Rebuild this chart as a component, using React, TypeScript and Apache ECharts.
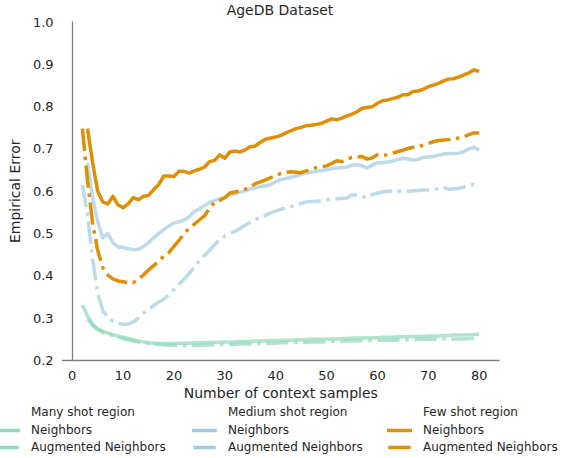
import React, { useEffect, useRef } from "react";
import * as echarts from "echarts";

const samples = [
  2, 3, 4, 5, 6, 7, 8, 9, 10, 11, 12, 13, 14, 15, 16, 17, 18, 19, 20, 21,
  22, 23, 24, 25, 26, 27, 28, 29, 30, 31, 32, 33, 34, 35, 36, 37, 38, 39, 40, 41,
  42, 43, 44, 45, 46, 47, 48, 49, 50, 51, 52, 53, 54, 55, 56, 57, 58, 59, 60, 61,
  62, 63, 64, 65, 66, 67, 68, 69, 70, 71, 72, 73, 74, 75, 76, 77, 78, 79, 80,
];

// Many shot region
const manyNeighbors = [
  0.331, 0.305, 0.286, 0.275, 0.269, 0.265, 0.261, 0.258, 0.255, 0.252,
  0.249, 0.246, 0.244, 0.242, 0.241, 0.240, 0.240, 0.240, 0.240, 0.241,
  0.241, 0.241, 0.242, 0.242, 0.242, 0.243, 0.243, 0.243, 0.244, 0.244,
  0.244, 0.245, 0.245, 0.245, 0.246, 0.246, 0.246, 0.247, 0.247, 0.248,
  0.248, 0.248, 0.249, 0.249, 0.249, 0.250, 0.250, 0.250, 0.251, 0.251,
  0.251, 0.252, 0.252, 0.253, 0.253, 0.253, 0.254, 0.254, 0.254, 0.255,
  0.255, 0.255, 0.256, 0.256, 0.256, 0.257, 0.257, 0.257, 0.258, 0.258,
  0.258, 0.259, 0.259, 0.260, 0.260, 0.260, 0.261, 0.261, 0.262,
];
const manyAugmented = [
  null, 0.298, 0.283, 0.273, 0.267, 0.263, 0.259, 0.255, 0.252, 0.249,
  0.246, 0.244, 0.242, 0.240, 0.239, 0.238, 0.237, 0.236, 0.236, 0.235,
  0.235, 0.235, 0.236, 0.236, 0.236, 0.237, 0.237, 0.237, 0.238, 0.238,
  0.238, 0.239, 0.239, 0.239, 0.240, 0.240, 0.240, 0.241, 0.241, 0.242,
  0.242, 0.242, 0.243, 0.243, 0.243, 0.244, 0.244, 0.244, 0.245, 0.245,
  0.245, 0.245, 0.246, 0.246, 0.246, 0.247, 0.247, 0.247, 0.248, 0.248,
  0.248, 0.248, 0.249, 0.249, 0.249, 0.249, 0.250, 0.250, 0.250, 0.250,
  0.250, 0.251, 0.251, 0.251, 0.251, 0.251, 0.252, 0.252, 0.252,
];

// Medium shot region
const mediumNeighbors = [
  null, 0.667, 0.585, 0.528, 0.490, 0.500, 0.478, 0.468, 0.467, 0.464,
  0.462, 0.463, 0.470, 0.478, 0.490, 0.500, 0.509, 0.518, 0.525, 0.528,
  0.532, 0.540, 0.552, 0.558, 0.566, 0.574, 0.578, 0.582, 0.585, 0.591,
  0.594, 0.598, 0.601, 0.605, 0.608, 0.611, 0.613, 0.616, 0.622, 0.628,
  0.630, 0.633, 0.636, 0.640, 0.643, 0.645, 0.647, 0.649, 0.651, 0.653,
  0.655, 0.656, 0.657, 0.662, 0.663, 0.660, 0.655, 0.662, 0.667, 0.668,
  0.669, 0.671, 0.675, 0.678, 0.676, 0.674, 0.675, 0.680, 0.681, 0.682,
  0.685, 0.688, 0.689, 0.689, 0.690, 0.694, 0.700, 0.704, 0.697,
];
const mediumAugmented = [
  0.615, 0.545, 0.440, 0.360, 0.318, 0.302, 0.293, 0.289, 0.285, 0.286,
  0.291, 0.300, 0.312, 0.320, 0.330, 0.338, 0.345, 0.355, 0.368, 0.380,
  0.392, 0.406, 0.420, 0.436, 0.448, 0.460, 0.474, 0.486, 0.494, 0.500,
  0.505, 0.512, 0.520, 0.527, 0.533, 0.538, 0.543, 0.549, 0.553, 0.557,
  0.561, 0.564, 0.568, 0.571, 0.575, 0.576, 0.576, 0.578, 0.580, 0.581,
  0.582, 0.583, 0.584, 0.591, 0.592, 0.588, 0.584, 0.592, 0.596, 0.598,
  0.600, 0.600, 0.600, 0.600, 0.600, 0.601, 0.602, 0.603, 0.603, 0.604,
  0.606, 0.609, 0.605, 0.606, 0.607, 0.610, 0.615, 0.616, 0.611,
];

// Few shot region
const fewNeighbors = [
  null, 0.748, 0.668, 0.600, 0.575, 0.570, 0.588, 0.568, 0.561, 0.570,
  0.585, 0.580, 0.588, 0.590, 0.604, 0.616, 0.636, 0.636, 0.635, 0.647,
  0.647, 0.643, 0.648, 0.652, 0.657, 0.670, 0.673, 0.686, 0.678, 0.693,
  0.695, 0.693, 0.698, 0.705, 0.707, 0.716, 0.723, 0.726, 0.728, 0.732,
  0.738, 0.743, 0.748, 0.751, 0.755, 0.756, 0.758, 0.760, 0.766, 0.771,
  0.769, 0.773, 0.778, 0.782, 0.788, 0.796, 0.798, 0.800, 0.808, 0.814,
  0.816, 0.819, 0.822, 0.828, 0.828, 0.836, 0.837, 0.841, 0.847, 0.851,
  0.855, 0.861, 0.865, 0.866, 0.870, 0.875, 0.880, 0.887, 0.883,
];
const fewAugmented = [
  0.748, 0.625, 0.525, 0.460, 0.420, 0.402, 0.393, 0.388, 0.386, 0.384,
  0.384, 0.392, 0.402, 0.414, 0.424, 0.434, 0.447, 0.455, 0.470, 0.484,
  0.500, 0.512, 0.522, 0.532, 0.542, 0.560, 0.574, 0.578, 0.585, 0.596,
  0.598, 0.601, 0.605, 0.610, 0.618, 0.622, 0.627, 0.632, 0.636, 0.642,
  0.645, 0.646, 0.645, 0.644, 0.648, 0.652, 0.656, 0.658, 0.660, 0.666,
  0.672, 0.670, 0.676, 0.680, 0.681, 0.682, 0.676, 0.679, 0.686, 0.685,
  0.686, 0.690, 0.694, 0.697, 0.701, 0.704, 0.705, 0.709, 0.713, 0.717,
  0.720, 0.721, 0.722, 0.723, 0.726, 0.729, 0.734, 0.738, 0.737,
];

const regionLabels = ["Many shot region", "Medium shot region", "Few shot region"];
const methodLabels = ["Neighbors", "Augmented Neighbors"];
const xTicks = [0, 10, 20, 30, 40, 50, 60, 70, 80];

const GREEN = "#8ed8bb";
const BLUE = "#9ecae1";
const ORANGE = "#de8f05";
const TEXT = "#262626";
const FONT = "DejaVu Sans";
const LW = 3.5;
const DASHDOT = [22.4, 5.6, 3.5, 5.6];

function pairs(vals: (number | null)[]) {
  const out: [number, number][] = [];
  vals.forEach((v, i) => {
    if (v !== null) out.push([samples[i], v]);
  });
  return out;
}

export default function App() {
  const ref = useRef<HTMLDivElement>(null);
  useEffect(() => {
    if (!ref.current) return;
    const chart = echarts.init(ref.current, undefined, { renderer: "svg" });

    const mk = (name: string, vals: (number | null)[], color: string, dashed: boolean, opacity: number, z: number) => ({
      name,
      type: "line",
      data: pairs(vals),
      showSymbol: false,
      symbol: "none",
      z,
      lineStyle: {
        color,
        width: LW,
        type: dashed ? DASHDOT : "solid",
        cap: "butt",
        join: "round",
        opacity,
      },
      emphasis: { disabled: true },
    });

    const cols = [
      { text: 31, color: GREEN },
      { text: 228, color: BLUE },
      { text: 423, color: ORANGE },
    ];
    const rowHeader = 413;
    const rowNb = 430.5;
    const rowAug = 447.5;
    const graphics: any[] = [];
    cols.forEach((c, i) => {
      graphics.push({
        type: "text",
        left: c.text,
        top: rowHeader - 7,
        style: { text: regionLabels[i], fill: TEXT, font: `12px ${FONT}` },
      });
      graphics.push({
        type: "text",
        left: c.text,
        top: rowNb - 7,
        style: { text: methodLabels[0], fill: TEXT, font: `12px ${FONT}` },
      });
      graphics.push({
        type: "text",
        left: c.text,
        top: rowAug - 7,
        style: { text: methodLabels[1], fill: TEXT, font: `12px ${FONT}` },
      });
      const x0 = c.text - 36;
      graphics.push({
        type: "line",
        shape: { x1: x0, y1: rowNb, x2: x0 + 25, y2: rowNb },
        style: { stroke: c.color, lineWidth: LW, lineCap: "butt" },
      });
      graphics.push({
        type: "line",
        shape: { x1: x0 + 1.3, y1: rowAug, x2: x0 + 1.3 + 22.4, y2: rowAug },
        style: { stroke: c.color, lineWidth: LW, lineCap: "butt" },
      });
    });

    chart.setOption({
      animation: false,
      backgroundColor: "#ffffff",
      title: {
        text: "AgeDB Dataset",
        left: 280,
        top: 3,
        padding: 0,
        textAlign: "center",
        textStyle: { fontFamily: FONT, fontSize: 14, fontWeight: "normal", color: TEXT },
      },
      grid: { left: 60, right: 69, top: 22, bottom: 97.5, containLabel: false },
      xAxis: {
        type: "value",
        min: -1.9,
        max: 83.9,
        splitNumber: 8,
        minInterval: 10,
        maxInterval: 10,
        name: "Number of context samples",
        nameLocation: "middle",
        nameGap: 25,
        nameTextStyle: { fontFamily: FONT, fontSize: 14, color: TEXT },
        axisLine: { show: true, lineStyle: { color: "#808080", width: 1.3 } },
        axisTick: { show: false },
        splitLine: { show: false },
        axisLabel: {
          fontFamily: FONT,
          fontSize: 13,
          color: TEXT,
          margin: 8,
          showMinLabel: true,
          showMaxLabel: true,
          formatter: (v: number) => (xTicks.indexOf(Math.round(v * 1000) / 1000) >= 0 ? String(v) : ""),
        },
      },
      yAxis: {
        type: "value",
        min: 0.2,
        max: 1.0,
        interval: 0.1,
        name: "Empirical Error",
        nameLocation: "middle",
        nameGap: 32,
        nameTextStyle: { fontFamily: FONT, fontSize: 14, color: TEXT },
        axisLine: { show: true, lineStyle: { color: "#808080", width: 1.3 } },
        axisTick: { show: false },
        splitLine: { show: false },
        axisLabel: {
          fontFamily: FONT,
          fontSize: 13,
          color: TEXT,
          margin: 9,
          formatter: (v: number) => v.toFixed(1),
        },
      },
      series: [
        mk("Many shot region Neighbors", manyNeighbors, GREEN, false, 0.7, 2),
        mk("Many shot region Augmented Neighbors", manyAugmented, GREEN, true, 0.7, 2),
        mk("Medium shot region Neighbors", mediumNeighbors, BLUE, false, 0.7, 3),
        mk("Medium shot region Augmented Neighbors", mediumAugmented, BLUE, true, 0.7, 3),
        mk("Few shot region Neighbors", fewNeighbors, ORANGE, false, 1, 4),
        mk("Few shot region Augmented Neighbors", fewAugmented, ORANGE, true, 1, 4),
      ],
      graphic: graphics,
    });
    return () => chart.dispose();
  }, []);
  return (
    <div
      ref={ref}
      style={{ position: "absolute", left: 0, top: 0, width: 568, height: 458, background: "#fff" }}
    />
  );
}
